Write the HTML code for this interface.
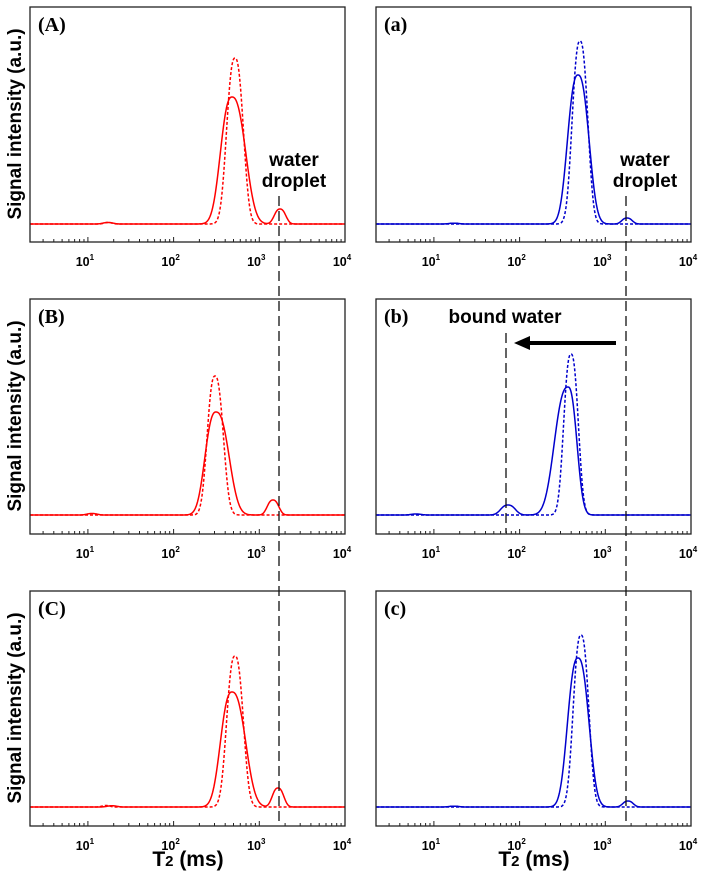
<!DOCTYPE html>
<html><head><meta charset="utf-8"><style>
body{margin:0;background:#fff;width:703px;height:873px;overflow:hidden}
svg text{font-family:"Liberation Sans",sans-serif}
</style></head><body>
<svg id="s" width="703" height="873" xmlns="http://www.w3.org/2000/svg"></svg>
<script>
const S=document.getElementById('s');let h='';
const D=85.7;
const panels=[
 {l:30,t:7,lab:'(A)',c:'#f00',bl:217,
  solid:[[202,127,11,13],[250,15,5.5,5.5],[78,1.5,5,5]],dash:[[205,166,8,8],[78,1.5,4,4]]},
 {l:376,t:7,lab:'(a)',c:'#00c',bl:217,
  solid:[[202,149,10,10.5],[251,6,5,5],[78,0.8,5,5]],dash:[[204,183,7.5,7.5]]},
 {l:30,t:299,lab:'(B)',c:'#f00',bl:216,
  solid:[[186,103,10.5,12.5],[243,15,5.5,5.5],[62,1.5,5,5]],dash:[[185,139,7.5,8]]},
 {l:376,t:299,lab:'(b)',c:'#00c',bl:216,
  solid:[[192,128,13,8.5],[132,10,7,7],[40,1,5,5]],dash:[[195,161,7,7]]},
 {l:30,t:591,lab:'(C)',c:'#f00',bl:216,
  solid:[[202,115,11,13],[248,19,5.5,5.5],[82,1.2,5,5]],dash:[[205,151,8,8],[76,1.5,4,4]]},
 {l:376,t:591,lab:'(c)',c:'#00c',bl:216,
  solid:[[202,149,10,10.5],[252,6,5,5],[78,0.8,5,5]],dash:[[205,172,7.5,7.5]]}
];
function path(p,pk){let d='';for(let x=0;x<=315;x+=0.5){let y=0;for(const [c,a,sl,sr] of pk){const s=x<c?sl:sr;y+=a*Math.exp(-Math.pow(Math.abs(x-c)/s,2.5)/2);}
 d+=(x?'L':'M')+(p.l+x).toFixed(1)+','+(p.t+p.bl-y).toFixed(1);}return d;}
for(const p of panels){
 const W=315,H=235,r=p.l+W,b=p.t+H;
 h+=`<path d="${path(p,p.dash)}" fill="none" stroke="${p.c}" stroke-width="1.5" stroke-dasharray="3,2"/>`;
 h+=`<path d="${path(p,p.solid)}" fill="none" stroke="${p.c}" stroke-width="1.5"/>`;
 h+=`<rect x="${p.l}" y="${p.t}" width="${W}" height="${H}" fill="none" stroke="#222" stroke-width="1.3"/>`;
 const x0=4-W/D;
 for(let e=0;e<4;e++)for(let m=1;m<10;m++){const lg=e+Math.log10(m);if(lg<x0)continue;const x=p.l+(lg-x0)*D;
  h+=`<line x1="${x}" x2="${x}" y1="${b}" y2="${b-(m==1?5:3)}" stroke="#222" stroke-width="1"/>`;}
 for(let e=1;e<=4;e++){const x=p.l+(e-x0)*D;
  h+=`<text x="${x-3}" y="${b+24}" font-size="12.5" font-weight="bold" text-anchor="middle">10<tspan font-size="8" dy="-6">${e}</tspan></text>`;}
 h+=`<text x="${p.l+8}" y="${p.t+24}" font-size="20" font-weight="bold" style="font-family:'Liberation Serif',serif">${p.lab}</text>`;
 if(p.l<100)h+=`<text transform="translate(21,${p.t+117}) rotate(-90)" font-size="19" font-weight="bold" text-anchor="middle">Signal intensity (a.u.)</text>`;
}
h+=`<line x1="279" x2="279" y1="196" y2="826" stroke="#111" stroke-width="1.3" stroke-dasharray="10,5"/>`;
h+=`<line x1="626" x2="626" y1="196" y2="826" stroke="#111" stroke-width="1.3" stroke-dasharray="10,5"/>`;
h+=`<line x1="506" x2="506" y1="333" y2="533" stroke="#111" stroke-width="1.3" stroke-dasharray="10,5"/>`;
for(const cx of [294,645]){h+=`<text x="${cx}" y="166" font-size="19" font-weight="bold" text-anchor="middle">water</text><text x="${cx}" y="187" font-size="19" font-weight="bold" text-anchor="middle">droplet</text>`;}
h+=`<text x="505" y="323" font-size="19" font-weight="bold" text-anchor="middle">bound water</text>`;
h+=`<line x1="616" x2="528" y1="343" y2="343" stroke="#000" stroke-width="4"/><polygon points="514,343 530,336 530,350" fill="#000"/>`;
for(const cx of [188,534])h+=`<text x="${cx}" y="866" font-size="21" font-weight="bold" text-anchor="middle">T<tspan font-size="15">2</tspan> (ms)</text>`;
S.innerHTML=h;
</script>
</body></html>
